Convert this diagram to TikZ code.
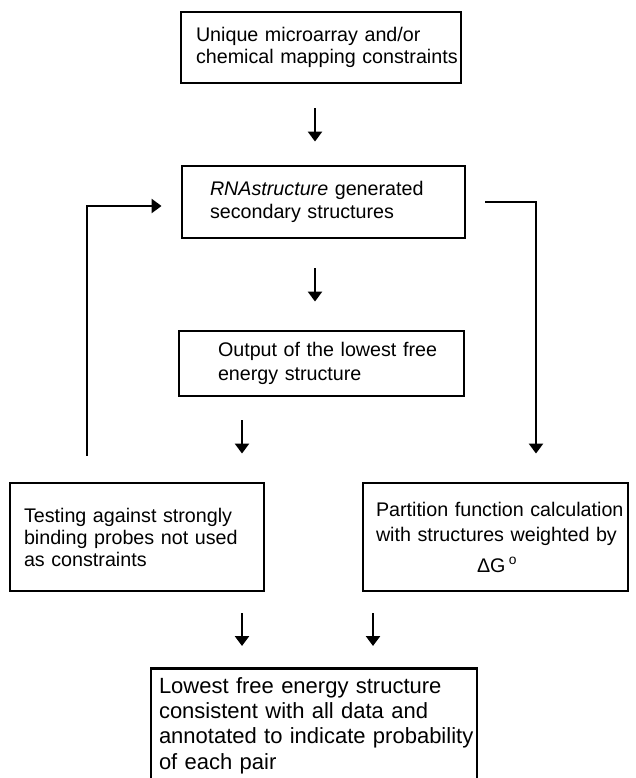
\documentclass[tikz,border=0pt]{standalone}
\usepackage{fontspec}
\setmainfont{Liberation Sans}
\usetikzlibrary{arrows.meta}

\begin{document}
\begin{tikzpicture}[x=1pt, y=-1pt, line width=2.9pt,
    box/.style={draw, align=left, inner ysep=0pt, font=\fontsize{19.7}{22.5}\selectfont},
    flow/.style={-{Triangle[width=14pt,length=10pt]}}]
        % Constraint-driven RNA folding workflow
        \useasboundingbox (0,0) rectangle (635,778);
        \clip (0,0) rectangle (635,778);
        \node[box, inner xsep=15pt, text width=250pt, minimum height=71pt] (input) at (321,47.5) {Unique microarray and/or\\\mbox{chemical mapping constraints}};
        \node[box, inner xsep=28pt, text width=227pt, minimum height=72pt, font=\fontsize{19.7}{23}\selectfont] (rnas) at (323.5,202) {\textit{RNAstructure} generated\\secondary structures};
        \node[box, inner xsep=39pt, text width=207pt, minimum height=65pt, font=\fontsize{19.7}{23.5}\selectfont] (out) at (321.5,363.5) {\mbox{Output of the lowest free}\\energy structure};
        \node[box, inner xsep=14pt, text width=226pt, minimum height=108pt, font=\fontsize{19.7}{22}\selectfont] (test) at (137,537) {Testing against strongly\\binding probes not used\\as constraints};
        \node[box, inner xsep=13pt, text width=239pt, minimum height=108pt, font=\fontsize{19.7}{25}\selectfont] (pf) at (495.5,537) {\mbox{Partition function calculation}\\\mbox{with structures weighted by}\\[6pt]\makebox[\linewidth]{\hspace{3pt}ΔG\,\textsuperscript{o}}};
        \node[box, anchor=north, inner xsep=8pt, inner ysep=9pt, text width=310pt, font=\fontsize{22}{25.3}\selectfont] (final) at (314,667) {Lowest free energy structure\\consistent with all data and\\\mbox{annotated to indicate probability}\\of each pair};
        \draw[flow] ([xshift=-6pt,yshift=-24pt]input.south) -- ([xshift=-8.5pt,yshift=23pt]rnas.north);
        \draw[flow] ([xshift=-8.5pt,yshift=-29pt]rnas.south) -- ([xshift=-6.5pt,yshift=28pt]out.north);
        \draw[flow] ([xshift=-50pt,yshift=26pt]test.north) |- ([xshift=-19pt,yshift=-4pt]rnas.west);
        \draw[flow] ([xshift=19pt]rnas.east) -| ([xshift=40.5pt,yshift=28pt]pf.north);
        \draw[flow] ([xshift=-79.5pt,yshift=-23pt]out.south) -- ([xshift=105pt,yshift=28pt]test.north);
        \draw[flow] ([xshift=105pt,yshift=-21pt]test.south) -- ([xshift=-72pt,yshift=21pt]final.north);
        \draw[flow] ([xshift=-122.5pt,yshift=-21pt]pf.south) -- ([xshift=59pt,yshift=21pt]final.north);
    \end{tikzpicture}
\end{document}
